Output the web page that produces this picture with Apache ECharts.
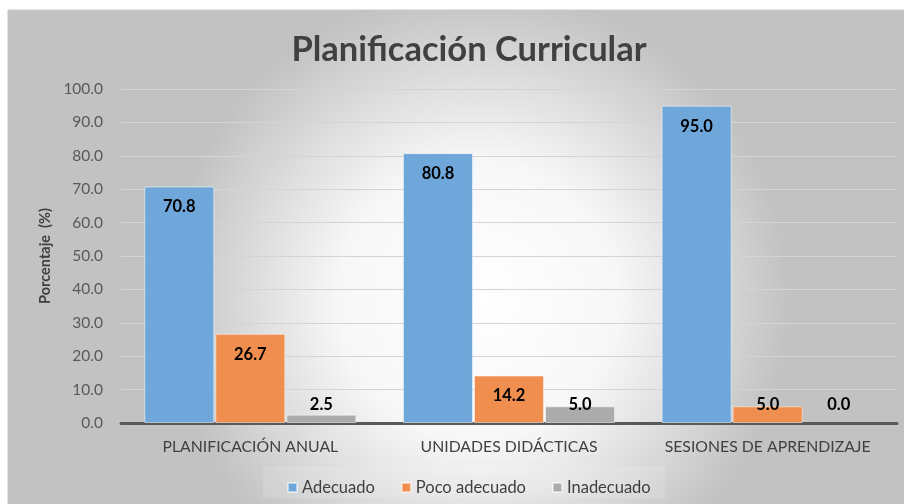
<!DOCTYPE html>
<html>
<head>
<meta charset="utf-8">
<script src="https://cdn.jsdelivr.net/npm/echarts@6/dist/echarts.min.js"></script>
<style>
html,body{margin:0;padding:0;background:#ffffff;}
#chart{width:904px;height:504px;}
</style>
</head>
<body>
<div id="chart"></div>
<script>
var categories = ['PLANIFICACIÓN ANUAL', 'UNIDADES DIDÁCTICAS', 'SESIONES DE APRENDIZAJE'];
var seriesNames = ['Adecuado', 'Poco adecuado', 'Inadecuado'];
var adecuado = [70.8, 80.8, 95.0];
var pocoAdecuado = [26.7, 14.2, 5.0];
var inadecuado = [2.5, 5.0, 0.0];
var colors = ['#6FA7DA', '#EF8E4E', '#ABABAB'];

var chart = echarts.init(document.getElementById('chart'));

function makeData(values) {
  return values.map(function (v) {
    var small = v < 10;
    var item = {
      value: v,
      label: small ? { position: 'insideBottom', distance: 10 } : { position: 'insideTop', distance: 12 }
    };
    if (v === 0) { item.itemStyle = { borderWidth: 0 }; }
    return item;
  });
}

function makeSeries(name, values, color) {
  return {
    name: name,
    type: 'bar',
    barWidth: 70,
    barGap: '1.5%',
    data: makeData(values),
    itemStyle: { color: color, borderColor: 'rgba(255,255,255,0.5)', borderWidth: 1 },
    label: {
      show: true,
      formatter: function (p) { return p.value.toFixed(1); },
      fontFamily: 'Lato, "Noto Sans", sans-serif',
      fontWeight: 'bold',
      fontSize: 16.5,
      color: '#000000'
    }
  };
}

var option = {
  animation: false,
  graphic: [{
    type: 'rect',
    z: -100,
    silent: true,
    shape: { x: 8, y: 10, width: 904, height: 500 },
    style: {
      fill: new echarts.graphic.RadialGradient(0.52, 0.58, 0.62, [
        { offset: 0, color: '#ffffff' },
        { offset: 0.45, color: '#f7f7f7' },
        { offset: 1, color: '#c2c2c2' }
      ]),
      stroke: '#c8c8c8',
      lineWidth: 1
    }
  }, {
    type: 'rect',
    z: -50,
    silent: true,
    shape: { x: 263, y: 466, width: 402, height: 32 },
    style: { fill: 'rgba(255,255,255,0.12)' }
  }],
  title: {
    text: 'Planificación Curricular',
    left: 464,
    top: 27,
    textAlign: 'center',
    textStyle: {
      fontFamily: 'Lato, "Noto Sans", sans-serif',
      fontWeight: 'bold',
      fontSize: 34.5,
      color: '#404040'
    }
  },
  legend: {
    data: seriesNames,
    left: 282,
    top: 474,
    itemWidth: 9,
    itemHeight: 9,
    itemGap: 26,
    icon: 'rect',
    textStyle: {
      fontFamily: 'Lato, "Noto Sans", sans-serif',
      fontSize: 16.5,
      color: '#404040'
    }
  },
  grid: { left: 121, right: 7, top: 89, bottom: 81, containLabel: false },
  xAxis: {
    type: 'category',
    data: categories,
    axisLine: { show: true, lineStyle: { color: '#595959', width: 3 } },
    axisTick: { show: false },
    axisLabel: {
      interval: 0,
      margin: 16,
      fontFamily: 'Lato, "Noto Sans", sans-serif',
      fontSize: 15.8,
      color: '#404040'
    }
  },
  yAxis: {
    type: 'value',
    min: 0,
    max: 100,
    interval: 10,
    name: 'Porcentaje  (%)',
    nameLocation: 'middle',
    nameGap: 68,
    nameTextStyle: {
      fontFamily: 'Lato, "Noto Sans", sans-serif',
      fontWeight: 'bold',
      fontSize: 14.5,
      color: '#404040'
    },
    axisLine: { show: false },
    axisTick: { show: false },
    splitLine: { lineStyle: { color: '#d4d4d4', width: 1 } },
    axisLabel: {
      margin: 18,
      formatter: function (v) { return v.toFixed(1); },
      fontFamily: 'Lato, "Noto Sans", sans-serif',
      fontSize: 15.5,
      color: '#595959'
    }
  },
  series: [
    makeSeries(seriesNames[0], adecuado, colors[0]),
    makeSeries(seriesNames[1], pocoAdecuado, colors[1]),
    makeSeries(seriesNames[2], inadecuado, colors[2])
  ]
};

chart.setOption(option);
</script>
</body>
</html>
